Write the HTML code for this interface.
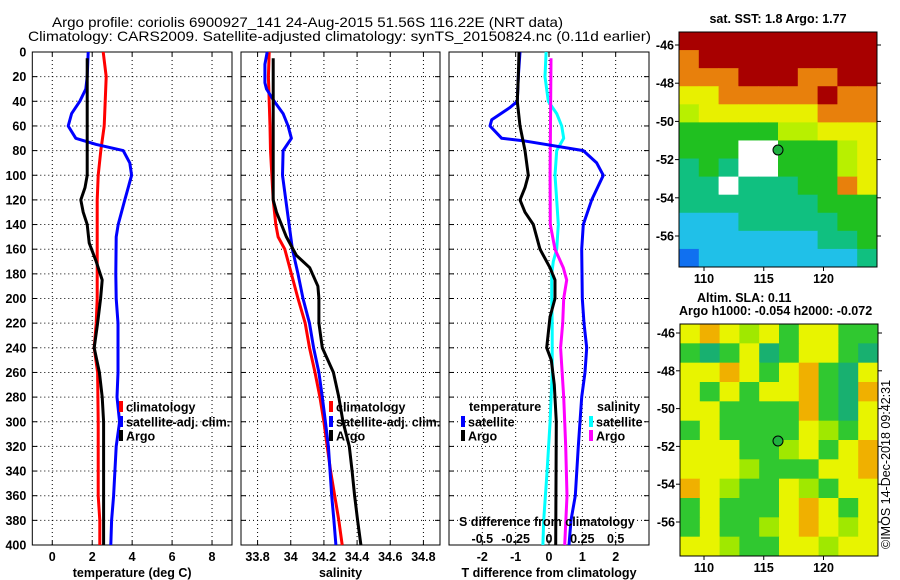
<!DOCTYPE html>
<html><head><meta charset="utf-8"><style>
body{margin:0;background:#fff;}
svg{display:block;font-family:"Liberation Sans",Arial,sans-serif;}
.t{font-size:12.5px;font-weight:bold;fill:#000;}
</style></head><body>
<svg id="c" width="900" height="580" viewBox="0 0 900 580" xmlns="http://www.w3.org/2000/svg">
<rect width="900" height="580" fill="#fff"/>
<text x="52" y="27" class="t" font-weight="normal" textLength="511" lengthAdjust="spacingAndGlyphs" style="font-weight:normal;font-size:14px">Argo profile: coriolis 6900927_141 24-Aug-2015 51.56S 116.22E (NRT data)</text>
<text x="28" y="41" class="t" textLength="623" lengthAdjust="spacingAndGlyphs" style="font-weight:normal;font-size:14px">Climatology: CARS2009. Satellite-adjusted climatology: synTS_20150824.nc (0.11d earlier)</text>
<g id="plots"></g>
<g id="maps"></g>
<text x="778" y="23" class="t" text-anchor="middle">sat. SST: 1.8 Argo: 1.77</text>
<text x="697" y="302" class="t">Altim. SLA: 0.11</text>
<text x="679" y="315" class="t">Argo h1000: -0.054 h2000: -0.072</text>
<text transform="translate(890,549) rotate(-90)" font-size="12.5" fill="#000">©IMOS 14-Dec-2018 09:42:31</text>
</svg>
<script>
// depth levels (dbar)
const depthTicks=[0,20,40,60,80,100,120,140,160,180,200,220,240,260,280,300,320,340,360,380,400];
// temperature panel
const tClimD=[0,20,60,80,100,120,200,220,240,260,300,360,380,400];
const tClim=[2.55,2.7,2.6,2.43,2.3,2.25,2.25,2.2,2.1,2.27,2.3,2.3,2.38,2.38];
const tArgoD=[5,100,110,120,130,140,155,170,185,200,220,240,260,280,300,400];
const tArgo=[1.75,1.75,1.64,1.43,1.55,1.75,1.85,2.2,2.5,2.42,2.27,2.1,2.36,2.5,2.57,2.57];
const tSatD=[0,20,30,40,50,60,70,75,80,90,100,120,140,150,180,200,220,260,280,300,320,360,380,400];
const tSat=[1.8,1.75,1.68,1.38,0.97,0.8,1.18,2.2,3.55,3.88,3.97,3.63,3.3,3.2,3.18,3.2,3.29,3.29,3.24,3.37,3.2,3.07,2.97,2.93];
const tTicks=[0,2,4,6,8];
// salinity panel
const sClimD=[0,20,60,80,120,140,150,160,180,200,220,240,260,280,300,320,340,360,380,400];
const sClim=[33.87,33.865,33.875,33.878,33.894,33.91,33.924,33.964,34.004,34.044,34.087,34.113,34.146,34.176,34.2,34.22,34.24,34.265,34.29,34.31];
const sArgoD=[5,120,130,150,165,175,190,200,220,240,260,280,300,320,340,360,380,400];
const sArgo=[33.894,33.894,33.914,33.974,34.034,34.114,34.164,34.17,34.17,34.19,34.257,34.29,34.315,34.353,34.37,34.385,34.403,34.423];
const sSatD=[0,10,25,30,40,50,60,70,80,100,120,140,160,180,200,220,240,260,280,300,320,360,380,400];
const sSat=[33.858,33.844,33.844,33.854,33.90,33.954,33.984,34.004,33.954,33.95,33.97,33.99,34.01,34.044,34.074,34.113,34.138,34.17,34.19,34.209,34.227,34.247,34.26,34.272];
const sTicks=[33.8,34,34.2,34.4,34.6,34.8];
const sTickLabels=["33.8","34","34.2","34.4","34.6","34.8"];
// difference panel
const dTSatD=[0,20,40,45,55,60,70,72,80,90,100,120,140,160,200,220,240,260,280,320,360,380,400];
const dTSat=[-0.87,-0.92,-0.95,-1.17,-1.72,-1.77,-1.42,-0.78,1.03,1.43,1.63,1.28,1.03,0.98,1.0,1.05,1.13,1.08,0.98,0.88,0.79,0.66,0.6];
const dTArgoD=[0,20,40,60,80,100,110,120,130,140,160,175,185,200,215,240,250,270,300,400];
const dTArgo=[-0.9,-0.92,-0.95,-0.87,-0.72,-0.62,-0.72,-0.87,-0.72,-0.47,-0.27,0.03,0.18,0.18,0.03,-0.07,0.07,0.16,0.22,0.2];
const dSSatD=[0,20,40,50,60,70,80,100,120,140,160,170,180,200,220,260,300,340,380,400];
const dSSat=[-0.022,-0.03,-0.005,0.058,0.095,0.11,0.058,0.045,0.058,0.07,0.058,0.032,0.02,0.02,0.024,0.024,0.008,-0.014,-0.04,-0.046];
const dSArgoD=[5,100,140,160,175,185,200,220,240,280,320,360,400];
const dSArgo=[0.015,0.008,0.01,0.045,0.107,0.133,0.11,0.103,0.087,0.11,0.125,0.135,0.118];
const dTTicks=[-2,-1,0,1,2];
const dSTicks=[-0.5,-0.25,0,0.25,0.5];
const dSTickLabels=["-0.5","-0.25","0","0.25","0.5"];
// maps (coarse colour grids)
const sstRows=["RRRRRRRRRR","ORRRRRRRRR","OOORRROORR","YYOOOOOROO","LYYYYYYOOO","GGGGGLLYYY","GGGWWGGGLY","TGTWWGGGLY","TTWTTTGGOY","TTTTTTTGGG","CCCTTTTTGG","CCCCCCCTTG","BCCCCCCCCT"];
const slaRows=["YOYLYGYYGG","GTGYTGYYGT","YYOYGYOGTY","YGYGYYOGTO","YYGGGGOGTY","GYGGGGYLGY","YYYGGLYGYO","YYYLGGGYYO","OYLGGYLGYY","GYGGGYOYGY","GYGGLYOYLY","YYLGGYYLYY"];
const latTicks=[-46,-48,-50,-52,-54,-56];
const lonTicks=[110,115,120];

const NS="http://www.w3.org/2000/svg";
function el(tag,attrs,parent){const e=document.createElementNS(NS,tag);for(const k in attrs)e.setAttribute(k,attrs[k]);parent.appendChild(e);return e;}
const Y0=52,Y1=545;
const yD=d=>Y0+(d/400)*(Y1-Y0);
const plots=document.getElementById('plots');

function panel(name,x0,x1,vmin,vmax,ticks,labels,title,showY){
  const g=el('g',{},plots);
  
  
  const sx=v=>x0+(v-vmin)/(vmax-vmin)*(x1-x0);
  ticks.forEach((t,i)=>{
    const gl=el('line',{x1:sx(t),x2:sx(t),y1:Y0,y2:Y1,stroke:'#000','stroke-width':1,'stroke-dasharray':'1,3'},g);
    
    
    el('line',{x1:sx(t),x2:sx(t),y1:Y0,y2:Y0+4,stroke:'#000'},g);
    el('line',{x1:sx(t),x2:sx(t),y1:Y1,y2:Y1-4,stroke:'#000'},g);
    if(labels){const tx=el('text',{x:sx(t),y:Y1+16,'text-anchor':'middle',class:'t'},g);tx.textContent=labels[i];
      
      }
  });
  depthTicks.forEach(d=>{
    if(d>0&&d<400){const gl=el('line',{x1:x0,x2:x1,y1:yD(d),y2:yD(d),stroke:'#000','stroke-dasharray':'1,3'},g);
      
      }
    el('line',{x1:x0,x2:x0+5,y1:yD(d),y2:yD(d),stroke:'#000'},g);
    el('line',{x1:x1,x2:x1-5,y1:yD(d),y2:yD(d),stroke:'#000'},g);
    if(showY){const tx=el('text',{x:x0-6,y:yD(d)+4.5,'text-anchor':'end',class:'t'},g);tx.textContent=d;
      
      }
  });
  const fr=el('rect',{x:x0,y:Y0,width:x1-x0,height:Y1-Y0,fill:'none',stroke:'#000','stroke-width':1},g);
  
  
  const tt=el('text',{x:(x0+x1)/2,y:577,'text-anchor':'middle',class:'t'},g);tt.textContent=title;
  
  
  return {g,sx};
}
function series(p,depths,vals,color,name,conv){
  const pts=depths.map((d,i)=>(p.sx(conv?conv(vals[i]):vals[i])).toFixed(1)+','+yD(d).toFixed(1)).join(' ');
  const pl=el('polyline',{points:pts,fill:'none',stroke:color,'stroke-width':3,'stroke-linejoin':'round'},p.g);
  
  
}
function legendEntry(g,x,y,color,label,name){
  el('rect',{x:x,y:y-6,width:4,height:11,fill:color},g);
  const t=el('text',{x:x+7,y:y+4.5,class:'t'},g);t.textContent=label;
  
  
}

const p1=panel('temperature-panel',32.3,232,-1,9,tTicks,tTicks.map(String),'temperature (deg C)',true);
series(p1,tClimD,tClim,'#ff0000','temperature-climatology-line');
series(p1,tSatD,tSat,'#0000ff','temperature-satellite-line');
series(p1,tArgoD,tArgo,'#000','temperature-argo-line');
legendEntry(p1.g,119,407,'#ff0000','climatology','legend-climatology');
legendEntry(p1.g,119,422,'#0000ff','satellite-adj. clim.','legend-satellite-adj');
legendEntry(p1.g,119,436,'#000','Argo','legend-argo');

const p2=panel('salinity-panel',241,440,33.7,34.9,sTicks,sTickLabels,'salinity',false);
series(p2,sClimD,sClim,'#ff0000','salinity-climatology-line');
series(p2,sSatD,sSat,'#0000ff','salinity-satellite-line');
series(p2,sArgoD,sArgo,'#000','salinity-argo-line');
legendEntry(p2.g,329,407,'#ff0000','climatology','legend-climatology');
legendEntry(p2.g,329,422,'#0000ff','satellite-adj. clim.','legend-satellite-adj');
legendEntry(p2.g,329,436,'#000','Argo','legend-argo');

const p3=panel('difference-panel',449,649,-3,3,dTTicks,dTTicks.map(String),'T difference from climatology',false);
const s2t=v=>v*4;
series(p3,dSSatD,dSSat,'#00ffff','salinity-diff-satellite-line',s2t);
series(p3,dSArgoD,dSArgo,'#ff00ff','salinity-diff-argo-line',s2t);
series(p3,dTSatD,dTSat,'#0000ff','temperature-diff-satellite-line');
series(p3,dTArgoD,dTArgo,'#000','temperature-diff-argo-line');
{const t=el('text',{x:469,y:411,class:'t'},p3.g);t.textContent='temperature';

}
{const t=el('text',{x:597,y:411,class:'t'},p3.g);t.textContent='salinity';

}
legendEntry(p3.g,461,422,'#0000ff','satellite','legend-t-satellite');
legendEntry(p3.g,461,436,'#000','Argo','legend-t-argo');
legendEntry(p3.g,589,422,'#00ffff','satellite','legend-s-satellite');
legendEntry(p3.g,589,436,'#ff00ff','Argo','legend-s-argo');
{const t=el('text',{x:459,y:526,class:'t'},p3.g);t.textContent='S difference from climatology';

}
dSTicks.forEach((v,i)=>{const t=el('text',{x:p3.sx(s2t(v)),y:543,'text-anchor':'middle',class:'t'},p3.g);t.textContent=dSTickLabels[i];

});

// maps
const maps=document.getElementById('maps');
const pal={R:'#a80000',O:'#e8800c',Y:'#e8f000',L:'#b8f000',G:'#20c020',T:'#10c080',C:'#20c0e8',B:'#1070f0',W:'#ffffff'};
const pal2={Y:'#e8f400',O:'#f0b000',L:'#a0e800',G:'#30c830',T:'#18b070'};
function mapPanel(name,rows,colors,x0,y0,x1,y1,latTop,latPx,dot){
  const g=el('g',{},maps);
  
  
  const nr=rows.length,nc=rows[0].length,cw=(x1-x0)/nc,ch=(y1-y0)/nr;
  rows.forEach((r,i)=>{[...r].forEach((c,j)=>{
    const cell=el('rect',{x:x0+j*cw,y:y0+i*ch,width:cw+0.5,height:ch+0.5,fill:colors[c]},g);
    
    
  });});
  const fr=el('rect',{x:x0,y:y0,width:x1-x0,height:y1-y0,fill:'none',stroke:'#000'},g);
  
  
  latTicks.forEach(l=>{const y=latTop+(-46-l)*latPx;
    el('line',{x1:x0-4,x2:x0,y1:y,y2:y,stroke:'#000'},g);
    el('line',{x1:x1,x2:x1+4,y1:y,y2:y,stroke:'#000'},g);
    const t=el('text',{x:x0-5,y:y+4.5,'text-anchor':'end',class:'t'},g);t.textContent=l;
    
    });
  lonTicks.forEach(l=>{const x=704+(l-110)*11.95;
    el('line',{x1:x,x2:x,y1:y1,y2:y1+4,stroke:'#000'},g);
    const t=el('text',{x:x,y:y1+16,'text-anchor':'middle',class:'t'},g);t.textContent=l;
    
    });
  const d=el('circle',{cx:dot[0],cy:dot[1],r:5,fill:'#20b040',stroke:'#000'},g);
  
  
}
mapPanel('sst-map',sstRows,pal,679,32,877,267,45,19.1,[778,150]);
mapPanel('sla-map',slaRows,pal2,680,324,878,556,333,18.9,[778,441]);
</script>
</body></html>
